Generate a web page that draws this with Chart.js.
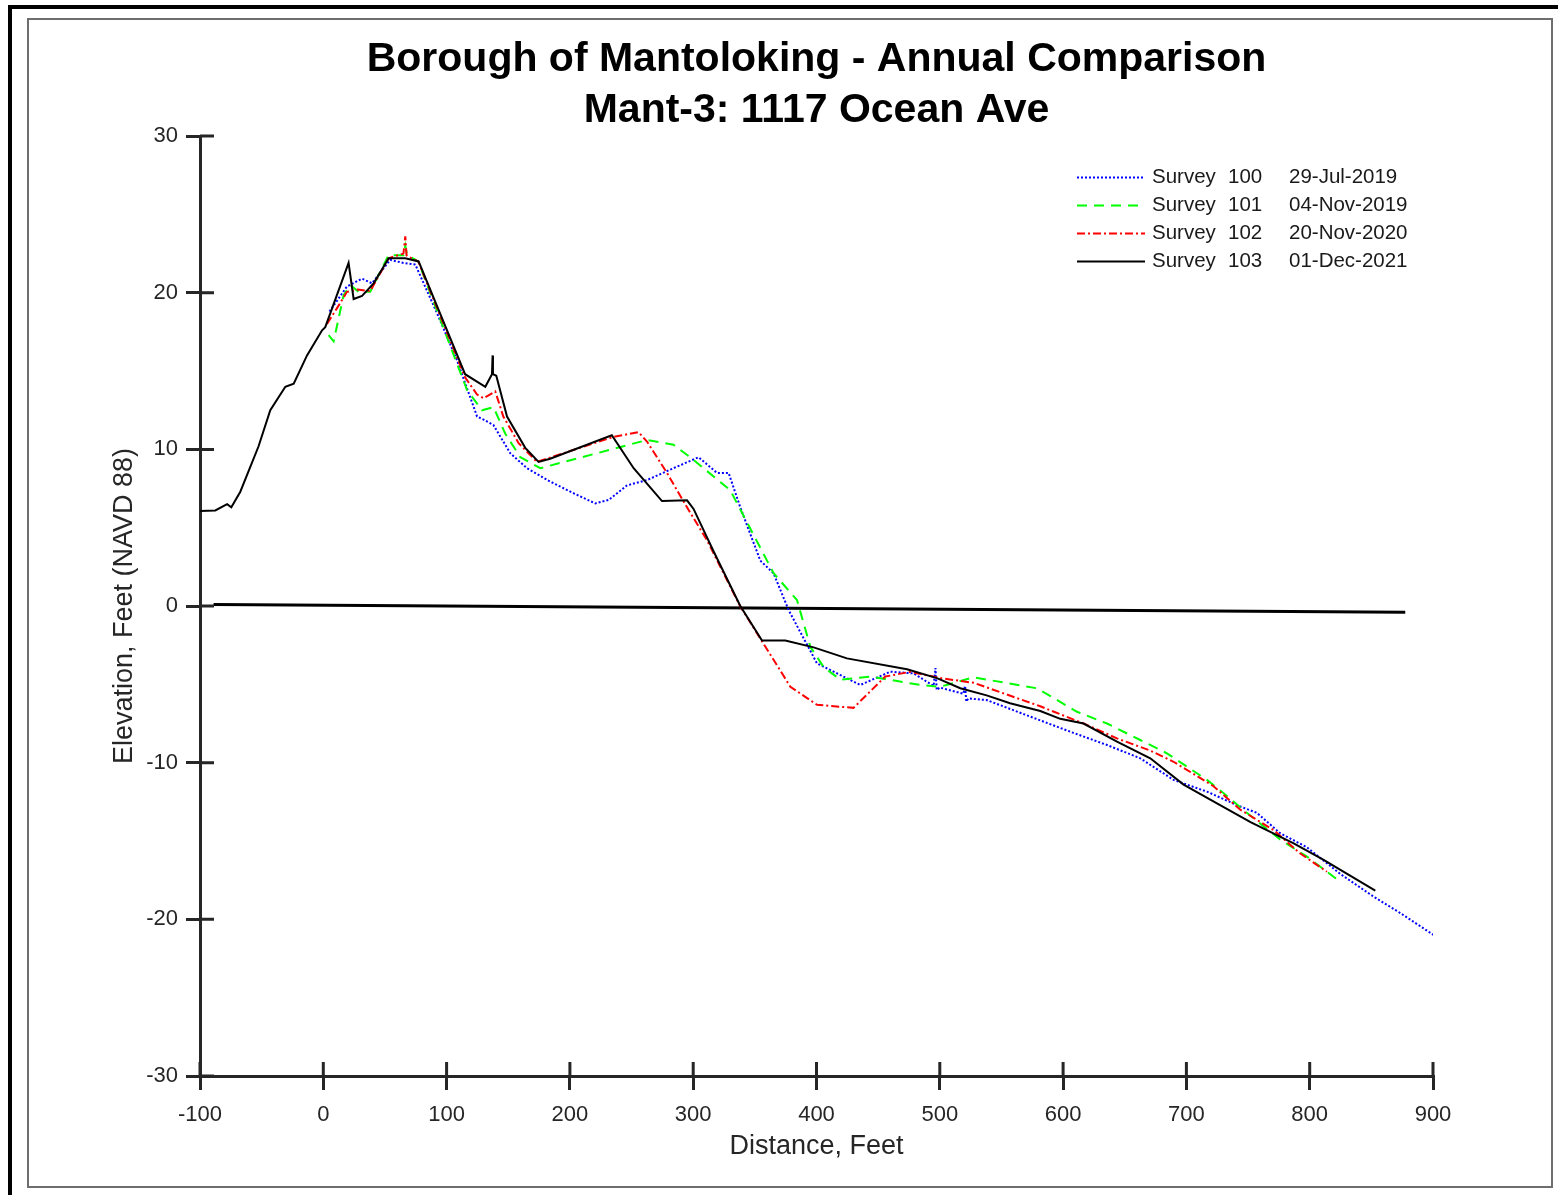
<!DOCTYPE html>
<html>
<head>
<meta charset="utf-8">
<title>Borough of Mantoloking - Annual Comparison</title>
<script src="https://cdn.jsdelivr.net/npm/chart.js@4/dist/chart.umd.min.js"></script>
<style>
    html, body { margin: 0; padding: 0; background: #fff; }
    #wrap { position: relative; width: 1558px; height: 1195px; overflow: hidden; background: #fff; }
    #outer { position: absolute; left: 8px; top: 5px; width: 1600px; height: 1300px; border: 4px solid #000; }
    #inner { position: absolute; left: 27px; top: 18px; width: 1522px; height: 1166px; border: 2px solid #6e6e6e; }
    #profile { position: absolute; left: 0; top: 0; }
</style>
</head>
<body>
<div id="wrap">
    <div id="outer"></div>
    <div id="inner"></div>
    <canvas id="profile" width="1558" height="1195"></canvas>
</div>
<script>
// survey labels
const surveyIds = ['100', '101', '102', '103'];
const surveyDates = ['29-Jul-2019', '04-Nov-2019', '20-Nov-2020', '01-Dec-2021'];

// Survey 100 - 29-Jul-2019
const dist100 = [5, 19.2, 31.4, 39.5, 54.3, 65, 74.6, 92.2, 108.4, 124.7, 130, 138, 151.7, 165.2, 182.7, 203, 220.6, 231.4, 246.3, 262.5, 284, 304.4, 319.3, 328.7, 338.2, 354.4, 365.2, 377.4, 400.4, 413.9, 435.5, 459.9, 478.8, 495, 496.5, 497.5, 500, 519, 520.5, 521.5, 523, 538, 581.5, 608.5, 635.6, 662.6, 689.6, 716.7, 743.7, 757.2, 776, 797.8, 824.8, 851.8, 873.5, 900.5];
const elev100 = [18.8, 20.4, 20.9, 20.6, 22.1, 21.9, 21.8, 18.7, 15.7, 12.1, 11.9, 11.55, 9.75, 8.8, 8.0, 7.2, 6.55, 6.77, 7.7, 8.04, 8.8, 9.5, 8.5, 8.5, 6.3, 2.9, 2.09, -0.26, -3.66, -4.19, -5.04, -4.19, -4.3, -5.1, -3.96, -5.36, -5.2, -5.6, -5.1, -6.1, -5.9, -6.0, -7.3, -8.1, -8.87, -9.72, -11.1, -11.85, -12.8, -13.2, -14.5, -15.4, -17.1, -18.55, -19.6, -21.0];

// Survey 101 - 04-Nov-2019
const dist101 = [4.3, 8.4, 16.5, 22, 28.6, 38, 53, 65, 66.5, 68, 70.5, 77, 116.5, 128.7, 138, 147.6, 159.8, 176, 262.5, 284, 297.6, 330, 365.2, 384.2, 395, 405.8, 419.3, 443.6, 484.2, 500.4, 527.4, 578.8, 611.3, 635.6, 662.6, 684.2, 716.7, 730.2, 749, 776, 797.8, 824.8];
const elev101 = [17.3, 16.9, 19.85, 20.5, 20.06, 20.06, 22.4, 22.4, 23.0, 22.4, 22.3, 22.0, 13.8, 12.5, 12.7, 11.0, 9.5, 8.8, 10.6, 10.3, 9.5, 7.4, 2.1, 0.38, -2.6, -3.9, -4.7, -4.5, -5.04, -5.15, -4.55, -5.25, -6.75, -7.5, -8.55, -9.4, -11.1, -11.95, -13.2, -14.9, -16.0, -17.6];

// Survey 102 - 20-Nov-2020
const dist102 = [3, 11, 19.2, 28, 38, 53, 65, 66.5, 67.5, 69, 77, 115, 124.7, 130, 139.5, 146, 158.4, 173.3, 235.4, 255.7, 262.5, 278.7, 295, 311.2, 338, 357, 378.8, 400.4, 430, 455.8, 476, 500.4, 527.4, 581.5, 616.6, 643.7, 670.7, 689.6, 722, 743.7, 770.7, 792.4, 814];
const elev102 = [18.0, 19.0, 20.06, 20.2, 20.1, 22.2, 22.5, 23.6, 22.4, 22.3, 22.0, 14.6, 13.5, 13.26, 13.7, 12.1, 10.4, 9.2, 10.8, 11.1, 10.5, 8.5, 6.3, 4.2, 0, -2.4, -5.15, -6.3, -6.5, -4.5, -4.2, -4.6, -4.9, -6.4, -7.5, -8.45, -9.23, -9.94, -11.5, -13.0, -14.3, -15.8, -16.96];

// Survey 103 - 01-Dec-2021
const dist103 = [-100, -87.6, -78, -74.6, -67.3, -52.5, -43, -30.8, -24, -13.2, -1, 1.6, 20.5, 24.6, 31.4, 40.8, 53, 66.5, 77.3, 115, 131.4, 136.8, 137.3, 137.6, 140.3, 149, 163.8, 174.6, 184, 234, 251.7, 274.7, 295, 300.3, 316.5, 338.2, 355.8, 374.7, 397.7, 424.7, 473.4, 497.7, 516.6, 538, 557, 581.5, 597.7, 616.6, 643.7, 670.7, 697.7, 724.8, 752, 787, 811.3, 853.2];
const elev103 = [6.06, 6.1, 6.5, 6.3, 7.3, 10.2, 12.5, 14.0, 14.2, 16.0, 17.6, 17.8, 21.9, 19.6, 19.8, 20.6, 22.2, 22.2, 22.0, 14.8, 14.0, 14.8, 16.0, 14.8, 14.7, 12.1, 10.1, 9.2, 9.4, 10.9, 8.8, 6.7, 6.75, 6.2, 3.5, 0, -2.2, -2.2, -2.64, -3.34, -4.04, -4.6, -5.25, -5.7, -6.2, -6.7, -7.2, -7.5, -8.66, -9.72, -11.4, -12.6, -13.8, -15.15, -16.2, -18.17];

// reference datum line
const datumDist = [-89, 877.5];
const datumElev = [0.1, -0.4];

// axes
const xMin = -100, xMax = 900, xStep = 100;
const yMin = -30, yMax = 30, yStep = 10;

const FONT = "'Liberation Sans', Arial, Helvetica, sans-serif";
const AXIS_COLOR = '#262626';

const toPoints = (xs, ys) => xs.map((x, i) => ({ x: x, y: ys[i] }));

// MATLAB-style ticks also stick into the plot area
const innerTicks = {
    id: 'innerTicks',
    afterDraw(chart) {
        const ctx = chart.ctx;
        const area = chart.chartArea;
        const xs = chart.scales.x;
        const ys = chart.scales.y;
        ctx.save();
        ctx.strokeStyle = AXIS_COLOR;
        ctx.lineWidth = 3;
        ctx.beginPath();
        xs.ticks.forEach(t => {
            const px = xs.getPixelForValue(t.value);
            ctx.moveTo(px, area.bottom);
            ctx.lineTo(px, area.bottom - 14);
        });
        ys.ticks.forEach(t => {
            const py = ys.getPixelForValue(t.value);
            ctx.moveTo(area.left, py);
            ctx.lineTo(area.left + 14, py);
        });
        ctx.stroke();
        ctx.restore();
    }
};

// legend without box, three text columns
const surveyLegend = {
    id: 'surveyLegend',
    afterDatasetsDraw(chart) {
        const ctx = chart.ctx;
        const x0 = 1077, x1 = 1145;
        ctx.save();
        ctx.font = '20.5px ' + FONT;
        ctx.textBaseline = 'middle';
        ctx.fillStyle = '#1a1a1a';
        chart.data.datasets.forEach((ds, i) => {
            if (i >= surveyIds.length) return;
            const y = 177.5 + i * 28;
            ctx.strokeStyle = ds.borderColor;
            ctx.lineWidth = ds.borderWidth;
            ctx.setLineDash(ds.borderDash || []);
            ctx.beginPath();
            ctx.moveTo(x0, y);
            ctx.lineTo(x1, y);
            ctx.stroke();
            ctx.setLineDash([]);
            ctx.fillText('Survey', 1152, y);
            ctx.fillText(surveyIds[i], 1228, y);
            ctx.fillText(surveyDates[i], 1289, y);
        });
        ctx.restore();
    }
};

const ctx = document.getElementById('profile').getContext('2d');

new Chart(ctx, {
    type: 'line',
    data: {
        datasets: [
            {
                label: 'Survey 100',
                data: toPoints(dist100, elev100),
                borderColor: '#0000ff',
                borderWidth: 2,
                borderDash: [2, 2],
                order: 3
            },
            {
                label: 'Survey 101',
                data: toPoints(dist101, elev101),
                borderColor: '#00ff00',
                borderWidth: 2,
                borderDash: [10, 7],
                order: 2
            },
            {
                label: 'Survey 102',
                data: toPoints(dist102, elev102),
                borderColor: '#ff0000',
                borderWidth: 2,
                borderDash: [8, 3, 2, 3],
                order: 1
            },
            {
                label: 'Survey 103',
                data: toPoints(dist103, elev103),
                borderColor: '#000000',
                borderWidth: 2,
                order: 0
            },
            {
                label: 'datum',
                data: toPoints(datumDist, datumElev),
                borderColor: '#000000',
                borderWidth: 3,
                order: 4
            }
        ]
    },
    options: {
        responsive: false,
        animation: false,
        devicePixelRatio: 1,
        elements: {
            point: { radius: 0 },
            line: { tension: 0, fill: false }
        },
        layout: {
            padding: { left: 108, top: 28, right: 125, bottom: 32 }
        },
        scales: {
            x: {
                type: 'linear',
                min: xMin,
                max: xMax,
                afterFit(scale) { scale.height = 1195 - 32 - 1076; },
                ticks: {
                    stepSize: xStep,
                    color: AXIS_COLOR,
                    font: { family: FONT, size: 22 },
                    padding: 12,
                    maxRotation: 0
                },
                grid: {
                    drawOnChartArea: false,
                    drawTicks: true,
                    tickLength: 14,
                    color: AXIS_COLOR,
                    lineWidth: 3
                },
                border: { display: true, color: AXIS_COLOR, width: 3 },
                title: {
                    display: true,
                    text: 'Distance, Feet',
                    color: AXIS_COLOR,
                    font: { family: FONT, size: 27 },
                    padding: 0
                }
            },
            y: {
                type: 'linear',
                min: yMin,
                max: yMax,
                afterFit(scale) { scale.width = 200 - 108; },
                ticks: {
                    stepSize: yStep,
                    color: AXIS_COLOR,
                    font: { family: FONT, size: 22 },
                    padding: 8
                },
                grid: {
                    drawOnChartArea: false,
                    drawTicks: true,
                    tickLength: 14,
                    color: AXIS_COLOR,
                    lineWidth: 3
                },
                border: { display: true, color: AXIS_COLOR, width: 3 },
                title: {
                    display: true,
                    text: 'Elevation, Feet (NAVD 88)',
                    color: AXIS_COLOR,
                    font: { family: FONT, size: 27 },
                    padding: 0
                }
            }
        },
        plugins: {
            legend: { display: false },
            tooltip: { enabled: false },
            title: {
                display: true,
                fullSize: false,
                text: ['Borough of Mantoloking - Annual Comparison', 'Mant-3: 1117 Ocean Ave'],
                color: '#000',
                font: { family: FONT, size: 41, weight: 'bold', lineHeight: 1.245 },
                padding: { top: 6, bottom: 0 }
            }
        }
    },
    plugins: [innerTicks, surveyLegend]
});
</script>
</body>
</html>
